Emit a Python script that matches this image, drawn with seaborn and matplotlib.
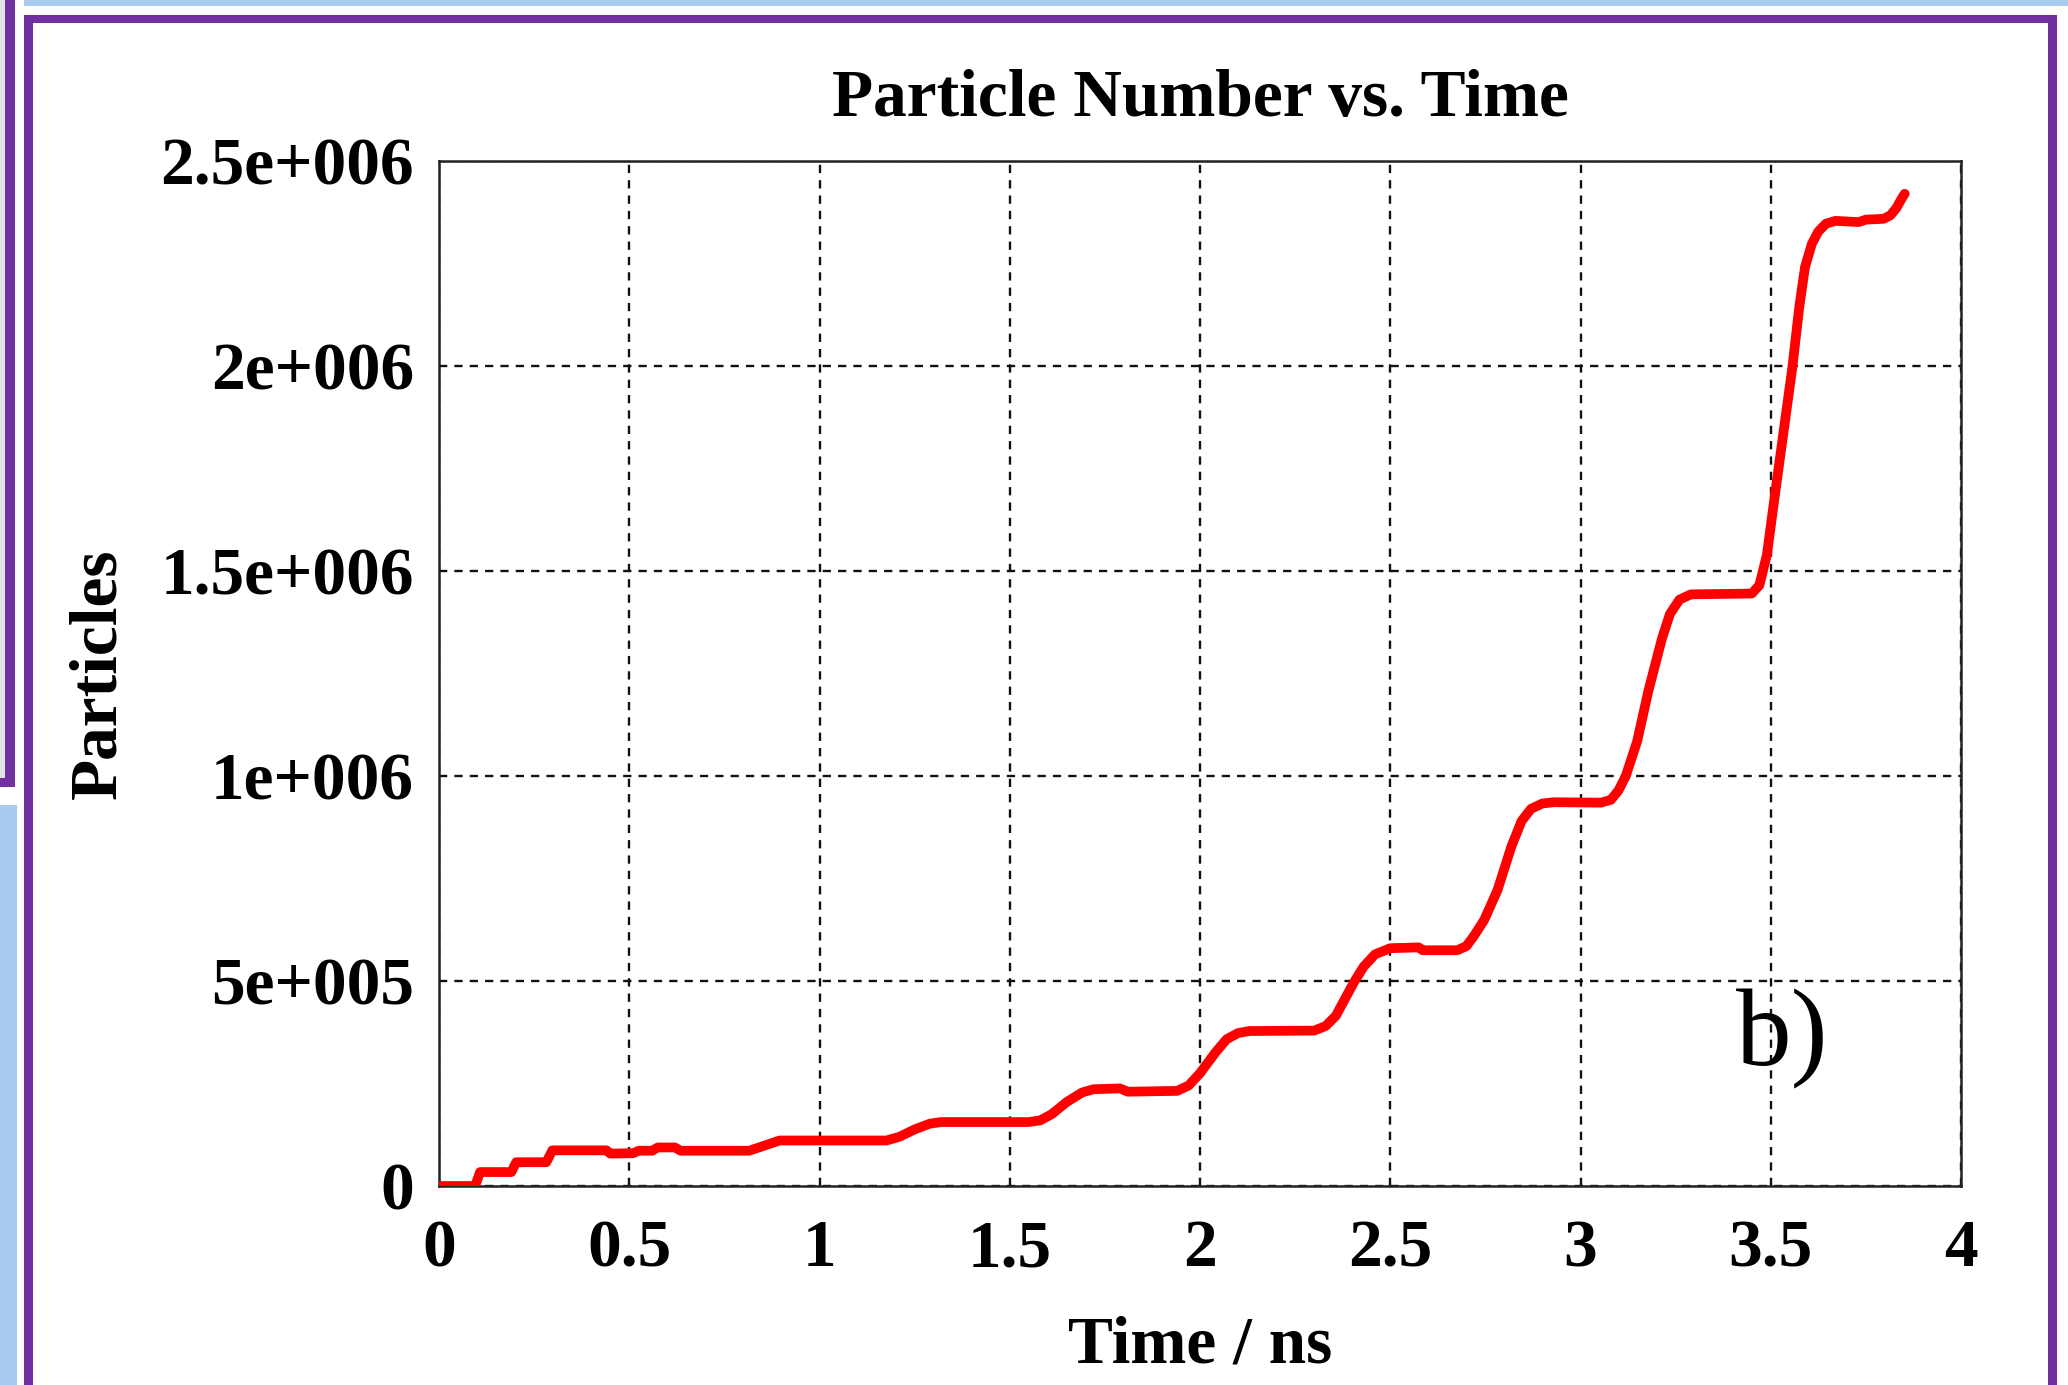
import numpy as np
import pandas as pd
import matplotlib
matplotlib.use("Agg")
import matplotlib.pyplot as plt
from matplotlib.patches import Rectangle
import seaborn as sns

# ---- data ----
time_ns = [0.000, 0.095, 0.108, 0.190, 0.203, 0.282, 0.298, 0.440, 0.450, 0.510,
           0.525, 0.560, 0.575, 0.620, 0.635, 0.815, 0.860, 0.895, 1.176, 1.210,
           1.250, 1.290, 1.320, 1.550, 1.580, 1.610, 1.650, 1.690, 1.720, 1.790,
           1.810, 1.940, 1.970, 2.000, 2.040, 2.070, 2.100, 2.130, 2.300, 2.330,
           2.357, 2.404, 2.430, 2.460, 2.500, 2.575, 2.585, 2.676, 2.700, 2.720,
           2.747, 2.782, 2.818, 2.845, 2.870, 2.900, 2.930, 3.054, 3.080, 3.100,
           3.119, 3.149, 3.178, 3.214, 3.235, 3.260, 3.290, 3.450, 3.470, 3.490,
           3.509, 3.533, 3.557, 3.575, 3.590, 3.608, 3.625, 3.645, 3.670, 3.731,
           3.750, 3.797, 3.815, 3.830, 3.845, 3.852]
particles = [0, 0, 34000, 34000, 58000, 58000, 87000, 87000, 79000, 80000,
             86000, 86000, 94000, 94000, 86000, 86000, 100000, 111000, 111000, 120000,
             138000, 152000, 156000, 156000, 160000, 175000, 205000, 228000, 236000, 238000,
             230000, 232000, 245000, 275000, 325000, 358000, 373000, 378000, 379000, 390000,
             415000, 496000, 535000, 565000, 580000, 582000, 575000, 575000, 585000, 610000,
             649000, 722000, 827000, 890000, 920000, 933000, 936000, 935000, 942000, 965000,
             1000000, 1085000, 1206000, 1335000, 1395000, 1430000, 1443000, 1445000, 1465000, 1540000,
             1672000, 1835000, 1998000, 2144000, 2241000, 2298000, 2328000, 2347000, 2354000, 2351000,
             2357000, 2359000, 2368000, 2385000, 2410000, 2420000]
x_ticks = [0, 0.5, 1, 1.5, 2, 2.5, 3, 3.5, 4]
x_tick_labels = ["0", "0.5", "1", "1.5", "2", "2.5", "3", "3.5", "4"]
y_ticks = [0, 500000, 1000000, 1500000, 2000000, 2500000]
y_tick_labels = ["0", "5e+005", "1e+006", "1.5e+006", "2e+006", "2.5e+006"]

df = pd.DataFrame({"Time": time_ns, "Particles": particles})

sns.set_style("white")
plt.rcParams["font.family"] = ["Liberation Serif", "DejaVu Serif"]
plt.rcParams["text.color"] = "black"
plt.rcParams["axes.labelcolor"] = "black"

W, H = 2068, 1385
fig = plt.figure(figsize=(W / 100, H / 100), dpi=100)
fig.patch.set_facecolor("white")

purple = "#7030A0"
lightblue = "#A9CBF0"

def px_rect(x0, y0, x1, y1, color, z=0):
    fig.add_artist(Rectangle((x0 / W, 1 - y1 / H), (x1 - x0) / W, (y1 - y0) / H,
                             transform=fig.transFigure, facecolor=color,
                             edgecolor="none", zorder=z))

# background slide decorations
px_rect(24, 0, W, 6, lightblue)
px_rect(0, 0, 5, 778, "#E4E2EC")
px_rect(5, 0, 15, 787, purple)
px_rect(0, 778, 15, 787, purple)
px_rect(0, 805, 17, H, lightblue)
# inner purple frame
px_rect(24, 15, 2057, 23, purple)
px_rect(24, 15, 33, H, purple)
px_rect(2048, 15, 2057, H, purple)

ax = fig.add_axes([439 / W, 1 - 1186 / H, 1522 / W, 1025 / H])
ax.set_facecolor("white")

sns.lineplot(data=df, x="Time", y="Particles", ax=ax, color="#FF0000",
             linewidth=7, solid_capstyle="round", solid_joinstyle="round",
             estimator=None, sort=False, zorder=3)

ax.set_xlim(0, 4)
ax.set_ylim(0, 2500000)
ax.set_xticks(x_ticks)
ax.set_xticklabels(x_tick_labels)
ax.set_yticks(y_ticks)
ax.set_yticklabels(y_tick_labels)

for lab in ax.get_xticklabels() + ax.get_yticklabels():
    lab.set_fontsize(48.5)
    lab.set_fontweight("bold")
    lab.set_color("black")

ax.tick_params(axis="both", direction="out", length=7, width=1.8, color="#222222")
ax.tick_params(axis="x", pad=17)
ax.tick_params(axis="y", pad=11)

for s in ax.spines.values():
    s.set_visible(True)
    s.set_color("#222222")
    s.set_linewidth(1.8)

ax.grid(True, color="#111111", linestyle=(0, (3.5, 3.0)), linewidth=1.7)
ax.set_axisbelow(True)

ax.set_title("Particle Number vs. Time", fontsize=48.5, fontweight="bold",
             color="black", y=(1186 - 116) / 1025, pad=0, va="baseline")
ax.set_xlabel("Time / ns", fontsize=48.5, fontweight="bold", color="black",
              va="baseline")
ax.xaxis.set_label_coords(0.5, (1186 - 1362) / 1025)
ax.set_ylabel("Particles", fontsize=48.5, fontweight="bold", color="black",
              va="center")
ax.yaxis.set_label_coords((99 - 439) / 1522, 0.5)

ax.text(3.409, 295000, "b)", fontsize=80, fontweight="normal",
        ha="left", va="baseline", color="black", zorder=4)

fig.savefig("out.png", dpi=100, facecolor="white")
